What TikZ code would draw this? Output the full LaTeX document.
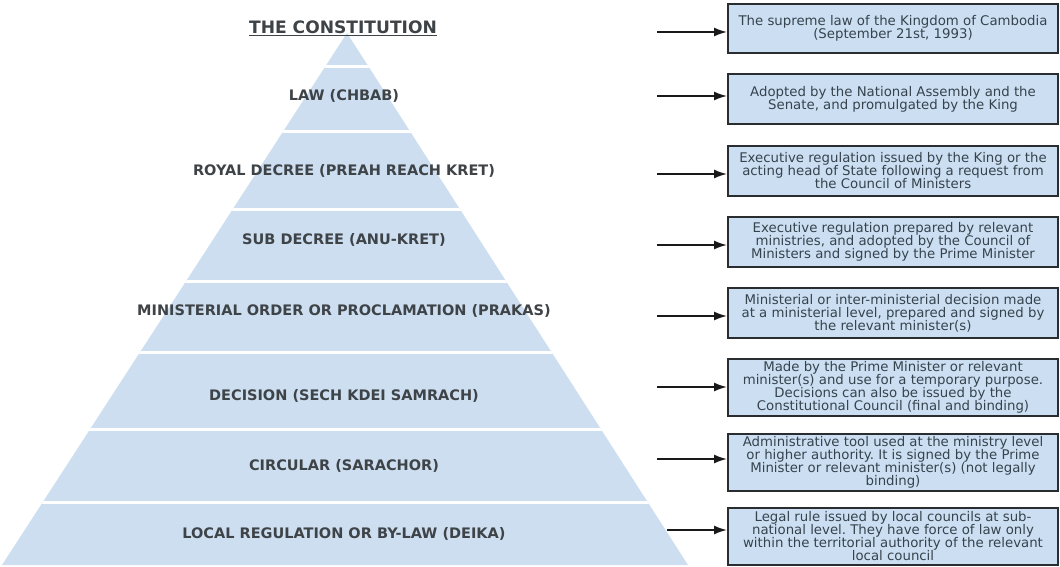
\documentclass[tikz,border=0pt]{standalone}
\usepackage{fontspec}
\setmainfont{DejaVu Sans}
\usetikzlibrary{arrows.meta}
\frenchspacing
\definecolor{pyr}{HTML}{CCDEF0}
\definecolor{boxfill}{HTML}{CCDFF2}
\definecolor{lbl}{HTML}{3E4347}
\definecolor{btxt}{HTML}{36434D}
\definecolor{edge}{HTML}{2A2D30}
\begin{document}
\begin{tikzpicture}[x=1pt,y=-1pt,
  lvl/.style={font=\fontsize{14.5}{16}\selectfont\bfseries, text=lbl, inner sep=0, anchor=base},
  desc/.style={draw=edge, line width=1.9pt, fill=boxfill, minimum width=330pt, inner sep=0pt,
    align=center, text=btxt, font=\fontsize{13.3}{13}\selectfont},
  conn/.style={draw=black!90, line width=1.8pt, -{Latex[length=13pt,width=9pt]}}
]
\useasboundingbox (0,0) rectangle (1060,567);
% pyramid
\fill[pyr] (347,33) -- (688,565) -- (2,565) -- cycle;
\begin{scope}
  \clip (347,33) -- (688,565) -- (2,565) -- cycle;
  \foreach \yy in {67,131.5,209,281,352.5,429,502}
    \draw[white, line width=3pt] (0,\yy) -- (700,\yy);
\end{scope}
% title and levels
\node[font=\fontsize{17.1}{19}\selectfont\bfseries, text=lbl, inner sep=0, anchor=base] (title) at (343,33.5) {\underline{THE CONSTITUTION}};
\node[lvl] (l1) at (344,101) {LAW (CHBAB)};
\node[lvl] (l2) at (344,175.7) {ROYAL DECREE (PREAH REACH KRET)};
\node[lvl] (l3) at (344,244.3) {SUB DECREE (ANU-KRET)};
\node[lvl] (l4) at (344,315) {MINISTERIAL ORDER OR PROCLAMATION (PRAKAS)};
\node[lvl] (l5) at (344,400) {DECISION (SECH KDEI SAMRACH)};
\node[lvl] (l6) at (344,470) {CIRCULAR (SARACHOR)};
\node[lvl] (l7) at (344,538) {LOCAL REGULATION OR BY-LAW (DEIKA)};
% description boxes
\node[desc, minimum height=49pt] (b1) at (893,28.5) {The supreme law of the Kingdom of Cambodia\\(September 21st, 1993)};
\node[desc, minimum height=50pt] (b2) at (893,99) {Adopted by the National Assembly and the\\Senate, and promulgated by the King};
\node[desc, minimum height=50pt] (b3) at (893,171) {Executive regulation issued by the King or the\\acting head of State following a request from\\the Council of Ministers};
\node[desc, minimum height=50pt] (b4) at (893,242) {Executive regulation prepared by relevant\\ministries, and adopted by the Council of\\Ministers and signed by the Prime Minister};
\node[desc, minimum height=50pt] (b5) at (893,313) {Ministerial or inter-ministerial decision made\\at a ministerial level, prepared and signed by\\the relevant minister(s)};
\node[desc, minimum height=57pt] (b6) at (893,387.5) {Made by the Prime Minister or relevant\\minister(s) and use for a temporary purpose.\\Decisions can also be issued by the\\Constitutional Council (final and binding)};
\node[desc, minimum height=57pt] (b7) at (893,462.5) {Administrative tool used at the ministry level\\or higher authority. It is signed by the Prime\\Minister or relevant minister(s) (not legally\\binding)};
\node[desc, minimum height=57pt] (b8) at (893,536.5) {Legal rule issued by local councils at sub-\\national level. They have force of law only\\within the territorial authority of the relevant\\local council};
% arrows
\coordinate (s1) at (657,32);
\coordinate (s2) at (657,96);
\coordinate (s3) at (657,174);
\coordinate (s4) at (657,245);
\coordinate (s5) at (657,316);
\coordinate (s6) at (657,387);
\coordinate (s7) at (657,459);
\coordinate (s8) at (667,530);
\foreach \i in {1,...,8}
  \draw[conn] (s\i) -- (s\i -| b\i.west);
\end{tikzpicture}
\end{document}
